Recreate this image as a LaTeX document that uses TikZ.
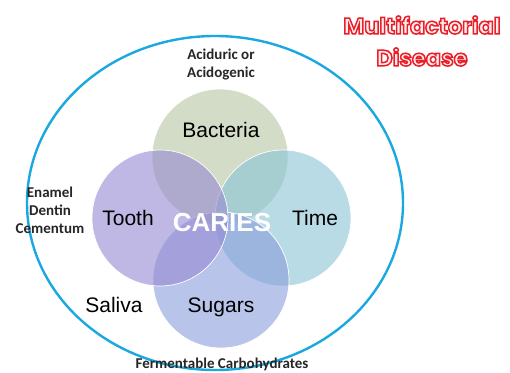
\documentclass[tikz,border=0pt]{standalone}
\usepackage{fontspec}
\setmainfont{Liberation Sans}
\newfontfamily\calib{Carlito}
\newfontfamily\popp{Poppins}
\usetikzlibrary{shapes.geometric}
\definecolor{ringblue}{RGB}{26,168,224}
\definecolor{cbact}{RGB}{182,197,160}
\definecolor{ctooth}{RGB}{150,137,210}
\definecolor{ctime}{RGB}{137,195,213}
\definecolor{csugar}{RGB}{137,157,220}
\definecolor{mfpink}{RGB}{255,235,235}
\tikzset{
  venn/.style={circle, minimum size=136pt, inner sep=0pt, fill opacity=0.6, draw=white, draw opacity=1, line width=0.7pt},
  biglabel/.style={font=\fontsize{21}{21}\selectfont, text=black, inner sep=0pt},
  smalllabel/.style={font=\calib\bfseries\fontsize{15}{18}\selectfont, text=black!85, align=center, inner sep=0pt},
  mfbase/.style={font=\popp\bfseries\fontsize{22.5}{22.5}\selectfont, inner sep=0pt, text=mfpink}
}
\newcommand{\outl}[1]{\special{pdf:literal direct 2 Tr 1.5 w 0.91 0.12 0.16 RG}#1\special{pdf:literal direct 0 Tr}}
\begin{document}
\begin{tikzpicture}[x=1pt,y=-1pt]
\useasboundingbox (0,0) rectangle (510,372);
\fill[white] (0,0) rectangle (510,372);
\node[draw=ringblue, line width=2.4pt, ellipse, minimum width=376pt, minimum height=334pt, inner sep=0pt] (outer) at (215,203) {};
\node[venn, fill=cbact] (bact) at (220,157) {};
\node[venn, fill=ctime] (time) at (283,218) {};
\node[venn, fill=csugar] (sugar) at (221,280) {};
\node[venn, fill=ctooth] (tooth) at (160,218) {};
\node[biglabel] (lbact) at (221,130) {Bacteria};
\node[biglabel] (ltooth) at (128,218) {Tooth};
\node[biglabel] (ltime) at (315,218) {Time};
\node[biglabel] (lsugar) at (221,307) {Sugars};
\node[biglabel] (lsaliva) at (114,305) {Saliva};
\node[font=\bfseries\fontsize{26}{26}\selectfont, text=white, inner sep=0pt] (caries) at (222,223) {CARIES};
\node[smalllabel] (acid) at (221,65) {Aciduric or\\Acidogenic};
\node[smalllabel] (enamel) at (50,210) {Enamel\\Dentin\\Cementum};
\node[smalllabel] (ferm) at (222,364) {Fermentable Carbohydrates};
\node[mfbase] (mf1) at (422,25) {\outl{Multifactorial}};
\node[mfbase] (mf2) at (422,57) {\outl{Disease}};
\end{tikzpicture}
\end{document}
